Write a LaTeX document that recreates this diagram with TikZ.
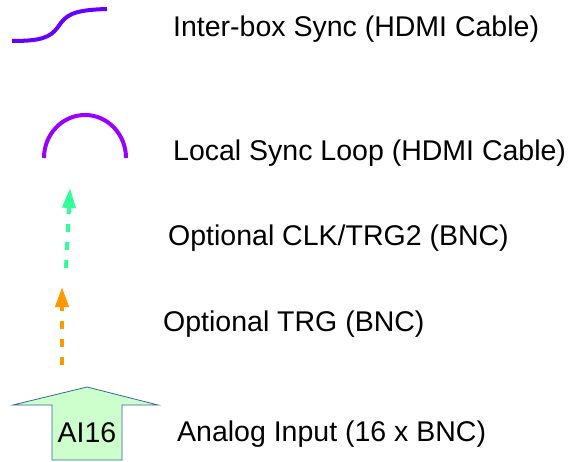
\documentclass[tikz,border=0pt]{standalone}
\usepackage{fontspec}
\setmainfont{Liberation Sans}
\usetikzlibrary{arrows.meta}
\definecolor{syncpurple}{RGB}{102,0,255}
\definecolor{loopviolet}{RGB}{153,0,255}
\definecolor{clkgreen}{RGB}{51,255,153}
\definecolor{trgorange}{RGB}{255,153,0}
\definecolor{aifill}{RGB}{204,255,204}
\definecolor{aiedge}{RGB}{52,101,164}
\tikzset{
  label/.style={anchor=base west,inner sep=0pt,font=\fontsize{28.5}{34}\selectfont},
  cable/.style={line width=4pt},
  bncline/.style={line width=4pt,dash pattern=on 8pt off 10pt,
    -{Triangle[width=13pt,length=20pt]}},
}
\begin{document}
\begin{tikzpicture}[x=1pt,y=1pt]
\useasboundingbox (0,0) rectangle (570,461);

% legend labels
\node[label] (interbox) at (173,424) {Inter-box Sync (HDMI Cable)};
\node[label] (loop) at (173,300) {Local Sync Loop (HDMI Cable)};
\node[label] (clk) at (168,215) {Optional CLK/TRG2 (BNC)};
\node[label] (trg) at (163,130) {Optional TRG (BNC)};
\node[label] (analog) at (177,20) {Analog Input (16 x BNC)};

% inter-box sync cable
\draw[cable,syncpurple] (12,420) .. controls (40,420) and (50,423) .. (58,434)
  .. controls (66,446) and (72,451) .. (107,452);

% local sync loop
\draw[cable,loopviolet] (44,303) arc[start angle=180,end angle=0,x radius=41pt,y radius=43pt];

% optional BNC lines
\coordinate (clkA) at (66,193);
\coordinate (clkB) at (70,273);
\draw[bncline,clkgreen] (clkA) -- (clkB);
\coordinate (trgA) at (62,96);
\coordinate (trgB) at (62,174);
\draw[bncline,trgorange] (trgA) -- (trgB);

% analog input block arrow
\draw[fill=aifill,draw=aiedge,line width=0.8pt,line join=miter]
  (52,1) -- (52,56) -- (13,56) -- (87,74) -- (158,56) -- (122,56) -- (122,1) -- cycle;
\node[anchor=base,inner sep=0pt,font=\fontsize{28.5}{34}\selectfont] (ai) at (87,19) {AI16};
\end{tikzpicture}
\end{document}
